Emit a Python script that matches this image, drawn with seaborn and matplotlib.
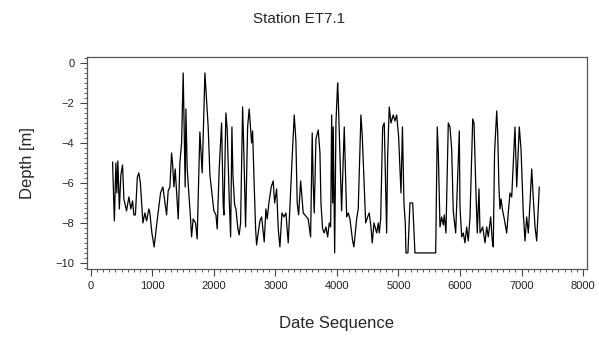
import matplotlib
matplotlib.use("Agg")
import matplotlib.pyplot as plt
from matplotlib.ticker import MultipleLocator
import pandas as pd
import seaborn as sns

# Water depth series for station ET7.1
date_seq = [353, 382, 407, 423, 439, 463, 488, 515, 537, 580, 618, 650, 678, 699, 724,
            756, 780, 805, 846, 878, 906, 943, 959, 992, 1029, 1073, 1133, 1171, 1231,
            1257, 1285, 1312, 1328, 1350, 1371, 1420, 1447, 1475, 1501, 1533, 1545, 1566,
            1621, 1637, 1663, 1702, 1728, 1772, 1810, 1842, 1854, 1907, 1935, 1979, 2000,
            2033, 2054, 2086, 2125, 2151, 2163, 2195, 2216, 2249, 2272, 2293, 2309, 2337,
            2358, 2390, 2411, 2434, 2450, 2467, 2488, 2515, 2548, 2574, 2613, 2629, 2650,
            2678, 2694, 2720, 2748, 2776, 2818, 2846, 2867, 2894, 2932, 2964, 2987, 3020,
            3046, 3073, 3106, 3138, 3171, 3208, 3236, 3268, 3306, 3333, 3354, 3377, 3410,
            3436, 3452, 3507, 3533, 3572, 3598, 3614, 3631, 3659, 3696, 3724, 3740, 3767,
            3793, 3821, 3849, 3875, 3898, 3914, 3930, 3940, 3963, 3984, 4011, 4021, 4049,
            4076, 4119, 4158, 4184, 4211, 4255, 4276, 4320, 4346, 4390, 4411, 4467, 4499,
            4525, 4553, 4574, 4602, 4646, 4672, 4688, 4711, 4743, 4769, 4808, 4824, 4850,
            4878, 4915, 4943, 4971, 5003, 5041, 5065, 5089, 5111, 5122, 5154, 5187, 5231,
            5268, 5605, 5631, 5648, 5675, 5703, 5729, 5745, 5772, 5810, 5837, 5865, 5891,
            5930, 5989, 6000, 6028, 6054, 6081, 6109, 6135, 6163, 6207, 6228, 6260, 6281,
            6309, 6326, 6369, 6407, 6434, 6460, 6499, 6525, 6541, 6562, 6597, 6613, 6634,
            6650, 6667, 6694, 6720, 6759, 6785, 6813, 6841, 6867, 6894, 6922, 6964, 6992,
            7029, 7057, 7084, 7111, 7138, 7166, 7192, 7220, 7247, 7289]

depth = [-4.95, -7.9, -5.0, -6.5, -4.9, -7.3, -5.6, -5.1, -6.8, -7.4, -6.7, -7.3, -6.9, -7.6, -7.6,
         -5.7, -5.5, -6.0, -8.0, -7.5, -7.9, -7.3, -7.5, -8.5, -9.2, -8.0, -6.5, -6.2, -7.6,
         -6.4, -6.2, -4.5, -5.0, -6.2, -5.3, -7.8, -5.0, -4.0, -0.5, -6.2, -2.3, -5.3,
         -7.8, -8.7, -7.8, -8.0, -8.8, -3.45, -5.5, -1.8, -0.5, -3.2, -5.6, -6.8, -7.4,
         -7.6, -8.3, -5.3, -3.0, -7.1, -7.6, -2.5, -3.3, -6.8, -8.7, -3.2, -5.6, -7.1,
         -7.3, -8.3, -8.6, -8.0, -5.2, -2.2, -4.6, -8.2, -3.2, -2.3, -4.0, -3.4, -5.6,
         -8.3, -9.1, -8.5, -7.9, -7.7, -8.95, -7.3, -7.8, -7.0, -6.2, -5.9, -7.0, -6.3,
         -8.3, -9.2, -7.5, -7.7, -7.5, -9.0, -7.2, -5.0, -2.6, -3.9, -7.0, -7.6, -5.9,
         -6.9, -7.5, -7.7, -7.8, -8.7, -3.5, -6.0, -7.5, -3.8, -3.35, -4.5, -7.0, -8.3,
         -8.5, -8.2, -8.7, -8.0, -8.2, -2.6, -7.0, -3.2, -9.5, -3.0, -1.0, -1.7, -4.7,
         -7.4, -3.2, -7.7, -7.5, -7.8, -8.9, -9.2, -7.8, -7.3, -2.6, -3.6, -8.0, -7.7,
         -7.5, -8.2, -9.0, -8.0, -8.5, -8.0, -8.5, -7.8, -3.2, -3.0, -8.5, -4.7, -2.2,
         -3.0, -2.6, -2.9, -2.6, -3.7, -6.5, -3.2, -7.0, -8.0, -9.5, -9.5, -7.0, -7.0,
         -9.5, -9.5, -3.2, -4.5, -8.2, -7.7, -8.1, -7.6, -8.5, -3.0, -3.2, -4.3, -7.4,
         -8.5, -3.4, -7.2, -8.7, -8.5, -9.0, -8.2, -8.9, -7.7, -2.8, -3.0, -6.5, -8.5,
         -6.3, -8.5, -8.2, -9.0, -8.2, -8.7, -7.7, -8.9, -9.2, -4.5, -2.4, -3.5, -6.3,
         -7.3, -6.8, -7.4, -7.8, -8.5, -7.5, -6.5, -6.7, -5.0, -3.2, -6.2, -3.2, -4.3,
         -7.5, -8.9, -7.7, -8.5, -7.0, -5.3, -6.8, -8.2, -8.9, -6.2]

x_ticks = [0, 1000, 2000, 3000, 4000, 5000, 6000, 7000, 8000]
y_ticks = [0, -2, -4, -6, -8, -10]

df = pd.DataFrame({"Date Sequence": date_seq, "Depth [m]": depth})

sns.set_style("ticks")
plt.rcParams["font.family"] = ["Liberation Sans", "DejaVu Sans"]

fig = plt.figure(figsize=(5.99, 3.37), dpi=100)
ax = fig.add_axes([0.145, 0.202, 0.835, 0.629])

sns.lineplot(data=df, x="Date Sequence", y="Depth [m]", ax=ax,
             color="black", linewidth=0.9, sort=False, estimator=None)

ax.set_xlim(-65, 8065)
ax.set_ylim(-10.3, 0.3)
ax.set_xticks(x_ticks)
ax.set_yticks(y_ticks)
ax.xaxis.set_minor_locator(MultipleLocator(100))
ax.yaxis.set_minor_locator(MultipleLocator(0.25))

for side in ["top", "right", "left", "bottom"]:
    ax.spines[side].set_visible(True)
    ax.spines[side].set_color("#555555")
    ax.spines[side].set_linewidth(0.9)

ax.tick_params(axis="both", which="major", direction="out", length=5, width=0.8,
               color="#444444", labelsize=8, labelcolor="#222222")
ax.tick_params(axis="both", which="minor", direction="out", length=2.5, width=0.6,
               color="#444444")
ax.tick_params(axis="x", which="major", pad=4)
ax.tick_params(axis="y", which="major", pad=4)

ax.set_xlabel("Date Sequence", fontsize=12, labelpad=18)
ax.set_ylabel("Depth [m]", fontsize=12, labelpad=15)
fig.suptitle("Station ET7.1", fontsize=11, y=0.965)

fig.savefig("out.png", dpi=100)
